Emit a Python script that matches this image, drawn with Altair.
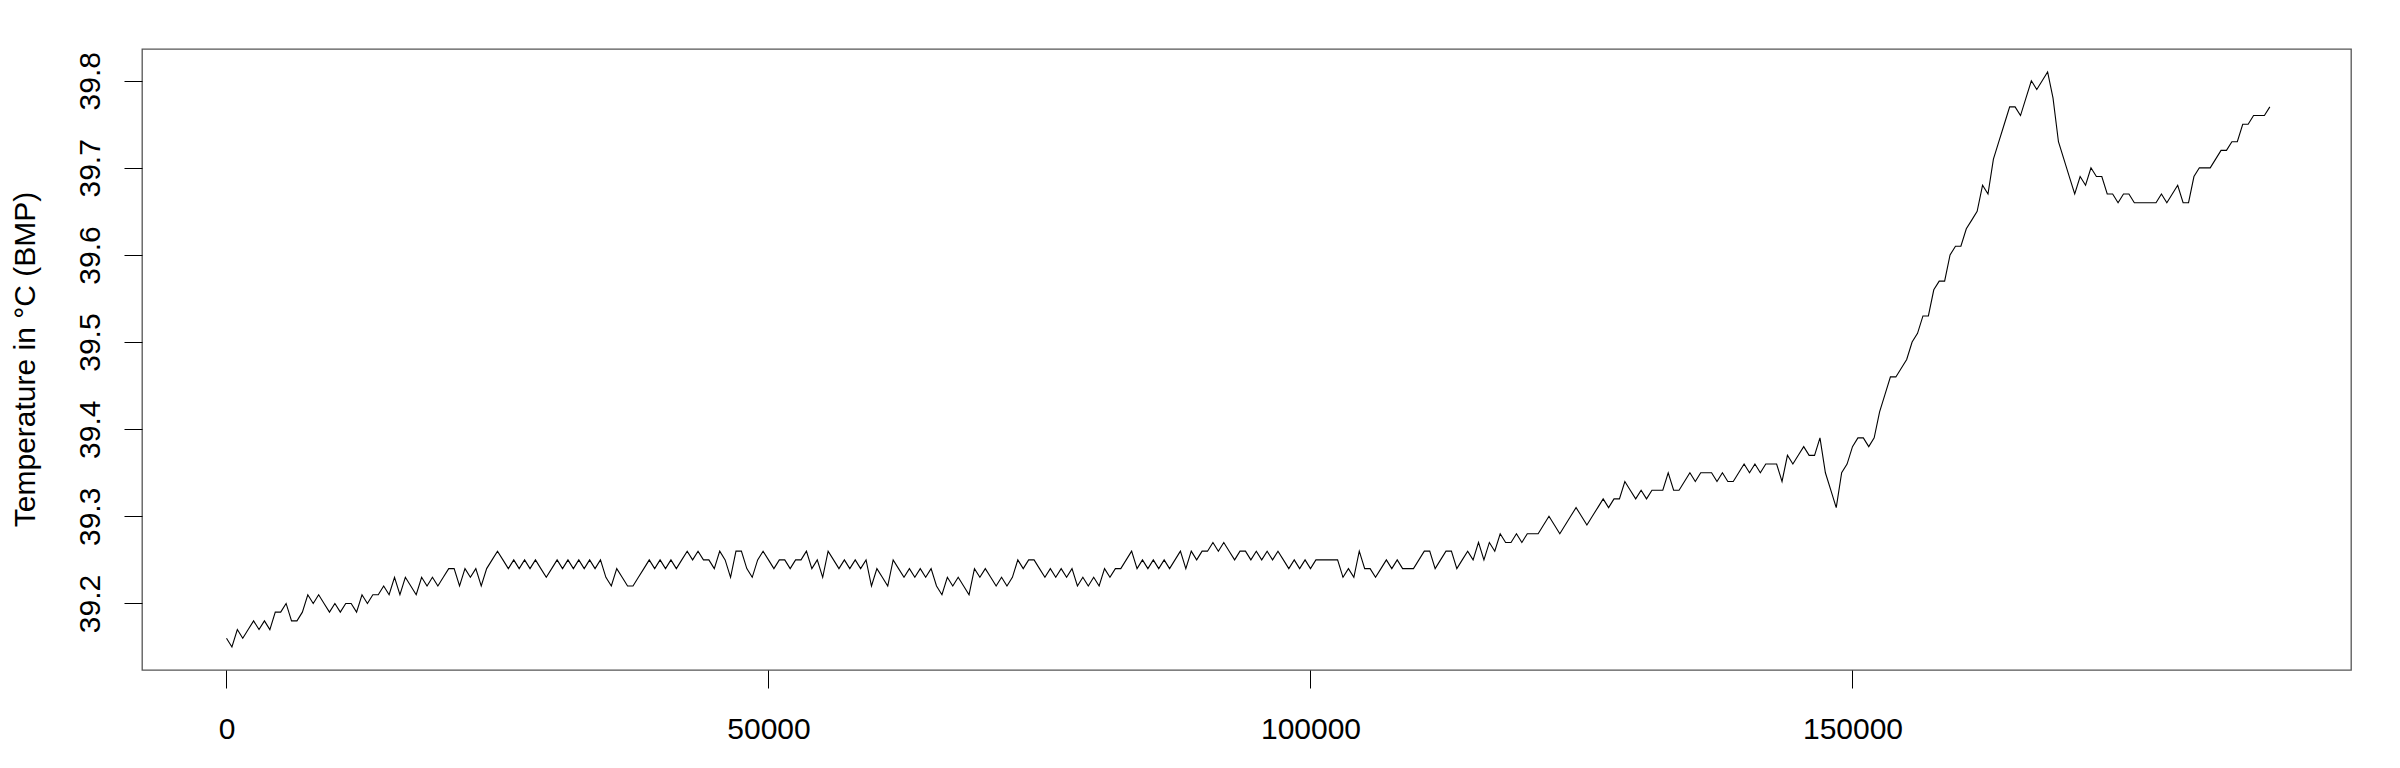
import altair as alt
import numpy as np
import pandas as pd

# BMP temperature readings, one every 500 samples
warmup = [
    39.16, 39.15, 39.17, 39.16, 39.17, 39.18, 39.17, 39.18, 39.17, 39.19,
    39.19, 39.20, 39.18, 39.18, 39.19, 39.21, 39.20, 39.21, 39.20, 39.19,
    39.20, 39.19, 39.20, 39.20, 39.19, 39.21, 39.20, 39.21, 39.21, 39.22,
    39.21, 39.23, 39.21, 39.23, 39.22, 39.21, 39.23, 39.22, 39.23, 39.22,
    39.23, 39.24, 39.24, 39.22, 39.24, 39.23, 39.24, 39.22, 39.24, 39.25,
    39.26, 39.25, 39.24, 39.25, 39.24, 39.25, 39.24, 39.25, 39.24, 39.23,
    39.24, 39.25, 39.24, 39.25, 39.24, 39.25, 39.24, 39.25, 39.24, 39.25,
]
plateau = [
    39.23, 39.22, 39.24, 39.23, 39.22, 39.22, 39.23, 39.24, 39.25, 39.24,
    39.25, 39.24, 39.25, 39.24, 39.25, 39.26, 39.25, 39.26, 39.25, 39.25,
    39.24, 39.26, 39.25, 39.23, 39.26, 39.26, 39.24, 39.23, 39.25, 39.26,
    39.25, 39.24, 39.25, 39.25, 39.24, 39.25, 39.25, 39.26, 39.24, 39.25,
    39.23, 39.26, 39.25, 39.24, 39.25, 39.24, 39.25, 39.24, 39.25, 39.22,
    39.24, 39.23, 39.22, 39.25, 39.24, 39.23, 39.24, 39.23, 39.24, 39.23,
    39.24, 39.22, 39.21, 39.23, 39.22, 39.23, 39.22, 39.21, 39.24, 39.23,
    39.24, 39.23, 39.22, 39.23, 39.22, 39.23, 39.25, 39.24, 39.25, 39.25,
    39.24, 39.23, 39.24, 39.23, 39.24, 39.23, 39.24, 39.22, 39.23, 39.22,
    39.23, 39.22, 39.24, 39.23, 39.24, 39.24, 39.25, 39.26, 39.24, 39.25,
    39.24, 39.25, 39.24, 39.25, 39.24, 39.25, 39.26, 39.24, 39.26, 39.25,
    39.26, 39.26, 39.27, 39.26, 39.27, 39.26, 39.25, 39.26, 39.26, 39.25,
    39.26, 39.25, 39.26, 39.25, 39.26, 39.25, 39.24, 39.25, 39.24, 39.25,
    39.24, 39.25, 39.25, 39.25, 39.25, 39.25, 39.23, 39.24, 39.23, 39.26,
    39.24, 39.24, 39.23, 39.24, 39.25, 39.24, 39.25, 39.24, 39.24, 39.24,
]
slow_rise = [
    39.25, 39.26, 39.26, 39.24, 39.25, 39.26, 39.26, 39.24, 39.25, 39.26,
    39.25, 39.27, 39.25, 39.27, 39.26, 39.28, 39.27, 39.27, 39.28, 39.27,
    39.28, 39.28, 39.28, 39.29, 39.30, 39.29, 39.28, 39.29, 39.30, 39.31,
    39.30, 39.29, 39.30, 39.31, 39.32, 39.31, 39.32, 39.32, 39.34, 39.33,
    39.32, 39.33, 39.32, 39.33, 39.33, 39.33, 39.35, 39.33, 39.33, 39.34,
    39.35, 39.34, 39.35, 39.35, 39.35, 39.34, 39.35, 39.34, 39.34, 39.35,
    39.36, 39.35, 39.36, 39.35, 39.36, 39.36, 39.36, 39.34, 39.37, 39.36,
    39.37, 39.38, 39.37, 39.37, 39.39, 39.35, 39.33, 39.31, 39.35, 39.36,
]
fast_rise = [
    39.38, 39.39, 39.39, 39.38, 39.39, 39.42, 39.44, 39.46, 39.46, 39.47,
    39.48, 39.50, 39.51, 39.53, 39.53, 39.56, 39.57, 39.57, 39.60, 39.61,
    39.61, 39.63, 39.64, 39.65, 39.68, 39.67, 39.71, 39.73, 39.75, 39.77,
    39.77, 39.76, 39.78, 39.80, 39.79, 39.80, 39.81, 39.78, 39.73, 39.71,
]
after_peak = [
    39.69, 39.67, 39.69, 39.68, 39.70, 39.69, 39.69, 39.67, 39.67, 39.66,
    39.67, 39.67, 39.66, 39.66, 39.66, 39.66, 39.66, 39.67, 39.66, 39.67,
    39.68, 39.66, 39.66, 39.69, 39.70, 39.70, 39.70, 39.71, 39.72, 39.72,
    39.73, 39.73, 39.75, 39.75, 39.76, 39.76, 39.76, 39.77,
]
sample_step = 500

temps = warmup + plateau + slow_rise + fast_rise + after_peak
df = pd.DataFrame({"sample": np.arange(len(temps)) * sample_step, "temp": temps})

font = "Liberation Sans"

chart = (
    alt.Chart(df)
    .mark_line(color="black", strokeWidth=1.1)
    .encode(
        x=alt.X(
            "sample:Q",
            scale=alt.Scale(domain=[-7795, 195988], nice=False, zero=False),
            axis=alt.Axis(
                title=None,
                values=[0, 50000, 100000, 150000],
                format="d",
                grid=False,
                domain=False,
                tickColor="black",
                tickSize=18,
                labelFont=font,
                labelFontSize=30,
                labelColor="black",
                labelPadding=26,
            ),
        ),
        y=alt.Y(
            "temp:Q",
            scale=alt.Scale(domain=[39.1236, 39.8364], nice=False, zero=False),
            axis=alt.Axis(
                title="Temperature in °C (BMP)",
                values=[39.2, 39.3, 39.4, 39.5, 39.6, 39.7, 39.8],
                format=".1f",
                grid=False,
                domain=False,
                tickColor="black",
                tickSize=18,
                labelFont=font,
                labelFontSize=30,
                labelColor="black",
                labelAngle=270,
                labelAlign="center",
                labelBaseline="bottom",
                labelPadding=19,
                titleFont=font,
                titleFontSize=30,
                titleFontWeight="normal",
                titleColor="black",
                titleAngle=270,
                titleAlign="center",
                titleBaseline="middle",
                titleX=-117,
                titleY=310,
            ),
        ),
    )
    .properties(
        width=2209,
        height=621,
        autosize="none",
        padding={"left": 134, "top": 41, "right": 30, "bottom": 80},
    )
    .configure_view(stroke="#555555", strokeWidth=1.3)
)

chart.save("out.html", embed_options={"renderer": "svg", "actions": False})
